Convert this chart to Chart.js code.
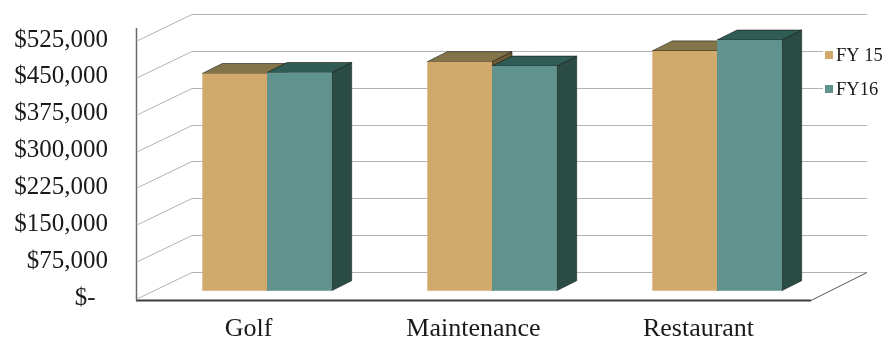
<!DOCTYPE html>
<html>
<head>
<meta charset="utf-8">
<script src="https://cdn.jsdelivr.net/npm/chart.js@4.4.1/dist/chart.umd.min.js"></script>
<style>
  html, body { margin: 0; padding: 0; background: #ffffff; }
  #wrap { width: 887px; height: 341px; position: relative; }
</style>
</head>
<body>
<div id="wrap"><canvas id="chart" width="887" height="341"></canvas></div>
<script>
// Department totals by fiscal year
const categories = ['Golf', 'Maintenance', 'Restaurant'];
const seriesNames = ['FY 15', 'FY16'];
const fy15 = [442000, 466000, 488000];
const fy16 = [444000, 457000, 510000];
const tickValues = [0, 75000, 150000, 225000, 300000, 375000, 450000, 525000];
const tickLabels = ['$-  ', '$75,000', '$150,000', '$225,000', '$300,000', '$375,000', '$450,000', '$525,000'];

// face colours: front, top, side
const palette = [
  { front: '#d1a96b', top: '#84744a', side: '#6e5a34' },
  { front: '#61938e', top: '#2f5d56', side: '#2b4c45' }
];

// oblique projection offsets (pixels)
const WALL = { x: 56, y: -26 };     // full floor depth
const SHIFT = { x: 18.5, y: -7.3 }; // where the bar row sits inside the floor
const DEPTH = { x: 20, y: -10 };    // thickness of each column

const serif = "'Liberation Serif', 'Times New Roman', serif";

function poly(ctx, pts, fill, stroke) {
  ctx.beginPath();
  ctx.moveTo(pts[0][0], pts[0][1]);
  for (let k = 1; k < pts.length; k++) ctx.lineTo(pts[k][0], pts[k][1]);
  ctx.closePath();
  ctx.fillStyle = fill;
  ctx.fill();
  if (stroke) { ctx.strokeStyle = stroke; ctx.lineWidth = 0.8; ctx.stroke(); }
}

const scene3d = {
  id: 'scene3d',
  beforeDatasetsDraw(chart) {
    const { ctx, chartArea: a, scales: { y } } = chart;
    ctx.save();

    // back wall and side wall grid
    ctx.strokeStyle = '#b3b3b3';
    ctx.lineWidth = 1;
    tickValues.forEach(v => {
      const py = Math.round(y.getPixelForValue(v)) + 0.5;
      ctx.beginPath();
      ctx.moveTo(a.left + 2, py);
      ctx.lineTo(a.left + WALL.x, py + WALL.y);
      ctx.lineTo(a.right + WALL.x, py + WALL.y);
      ctx.stroke();
    });

    // floor edges
    const fy = a.bottom + 2.5;
    ctx.strokeStyle = '#555555';
    ctx.lineWidth = 1;
    ctx.beginPath();
    ctx.moveTo(a.right, fy);
    ctx.lineTo(a.right + WALL.x, y.getPixelForValue(0) + WALL.y + 0.5);
    ctx.stroke();
    ctx.strokeStyle = '#3c3c3c';
    ctx.lineWidth = 2;
    ctx.beginPath();
    ctx.moveTo(a.left, fy);
    ctx.lineTo(a.right, fy);
    ctx.stroke();

    // vertical wall edge
    ctx.strokeStyle = '#6a6a6a';
    ctx.lineWidth = 1.5;
    ctx.beginPath();
    ctx.moveTo(a.left + 0.5, a.top - 12);
    ctx.lineTo(a.left + 0.5, fy);
    ctx.stroke();

    // columns, painted left to right within each category
    chart.data.labels.forEach((_, i) => {
      chart.data.datasets.forEach((ds, d) => {
        const el = chart.getDatasetMeta(d).data[i];
        const c = palette[d];
        const l = el.x - el.width / 2 + SHIFT.x;
        const r = el.x + el.width / 2 + SHIFT.x;
        const t = el.y + SHIFT.y;
        const b = el.base + SHIFT.y;
        poly(ctx, [[r, b], [r + DEPTH.x, b + DEPTH.y], [r + DEPTH.x, t + DEPTH.y], [r, t]], c.side, 'rgba(20,30,25,0.7)');
        poly(ctx, [[l, t], [l + DEPTH.x, t + DEPTH.y], [r + DEPTH.x, t + DEPTH.y], [r, t]], c.top, 'rgba(20,20,15,0.75)');
        poly(ctx, [[l, t], [r, t], [r, b], [l, b]], c.front, null);
      });
    });

    ctx.restore();
    return false;
  },
  afterDraw(chart) {
    const { ctx } = chart;
    ctx.save();
    ctx.fillStyle = '#ffffff';
    ctx.fillRect(823, 44, 64, 58);
    ctx.font = '18.5px ' + serif;
    ctx.textBaseline = 'middle';
    ctx.textAlign = 'left';
    const rows = [55, 89];
    chart.data.datasets.forEach((ds, d) => {
      const cy = rows[d];
      ctx.fillStyle = palette[d].front;
      ctx.fillRect(825, cy - 4, 8, 8);
      ctx.fillStyle = '#1a1a1a';
      ctx.fillText(ds.label, 836, cy + 1);
    });
    ctx.restore();
  }
};

new Chart(document.getElementById('chart'), {
  type: 'bar',
  data: {
    labels: categories,
    datasets: [
      { label: seriesNames[0], data: fy15, backgroundColor: palette[0].front },
      { label: seriesNames[1], data: fy16, backgroundColor: palette[1].front }
    ]
  },
  options: {
    responsive: false,
    animation: false,
    events: [],
    layout: { padding: { top: 40, right: 76, left: 0, bottom: 0 } },
    datasets: { bar: { categoryPercentage: 0.575, barPercentage: 1 } },
    plugins: { legend: { display: false }, tooltip: { enabled: false } },
    scales: {
      x: {
        grid: { display: false },
        border: { display: false },
        ticks: { color: '#1a1a1a', font: { family: serif, size: 26 }, padding: 8, maxRotation: 0 },
        afterFit(scale) { scale.height = 43; scale.paddingLeft = 0; scale.paddingRight = 0; }
      },
      y: {
        min: 0,
        max: 525000,
        grid: { display: false },
        border: { display: false },
        afterBuildTicks(scale) { scale.ticks = tickValues.map(v => ({ value: v })); },
        ticks: {
          color: '#1a1a1a',
          font: { family: serif, size: 25 },
          padding: 20,
          callback: (v, idx) => tickLabels[idx]
        },
        afterFit(scale) { scale.width = 136; scale.paddingTop = 0; scale.paddingBottom = 0; }
      }
    }
  },
  plugins: [scene3d]
});
</script>
</body>
</html>
